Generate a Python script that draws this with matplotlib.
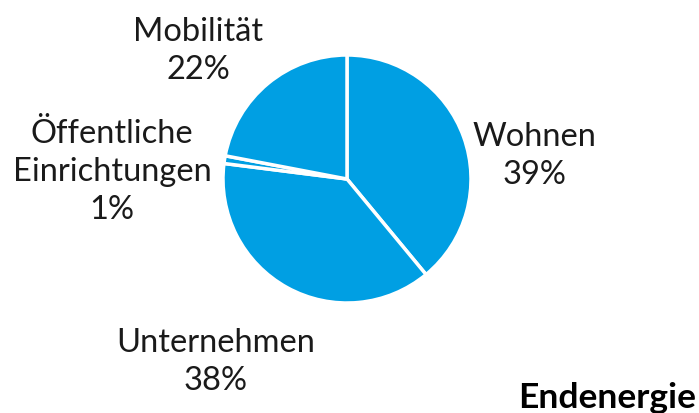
import matplotlib.pyplot as plt

# Anteile Endenergie nach Sektor
sektoren = ['Wohnen', 'Unternehmen', 'Öffentliche\nEinrichtungen', 'Mobilität']
anteile = [39, 38, 1, 22]
farbe = '#009FE3'

W, H = 699, 414
fig = plt.figure(figsize=(W / 100, H / 100), dpi=100)
plt.rcParams['font.family'] = ['Lato', 'DejaVu Sans']

# Kreis: Mittelpunkt (347, 180) px, Radius ~124 px
cx, cy, r = 347, 180, 124
ax = fig.add_axes([(cx - r) / W, (H - cy - r) / H, 2 * r / W, 2 * r / H])
ax.pie(anteile, startangle=90, counterclock=False, colors=[farbe] * len(anteile),
       wedgeprops=dict(edgecolor='white', linewidth=2.5))
ax.set_xlim(-1, 1)
ax.set_ylim(-1, 1)
ax.set_aspect('auto')
ax.axis('off')

# Beschriftungen (Mitte der Textblöcke in Pixeln)
pos = [(534, 156), (216, 362), (112, 172), (198, 51)]
for name, wert, (x, y) in zip(sektoren, anteile, pos):
    fig.text(x / W, 1 - y / H, f'{name}\n{wert}%', ha='center', va='center',
             fontsize=23.5, linespacing=1.33, color='#1a1a1a')

fig.text(518 / W, 1 - 408 / H, 'Endenergie', ha='left', va='baseline',
         fontsize=25.5, fontweight='bold', color='black')

fig.savefig('out.png', dpi=100)
